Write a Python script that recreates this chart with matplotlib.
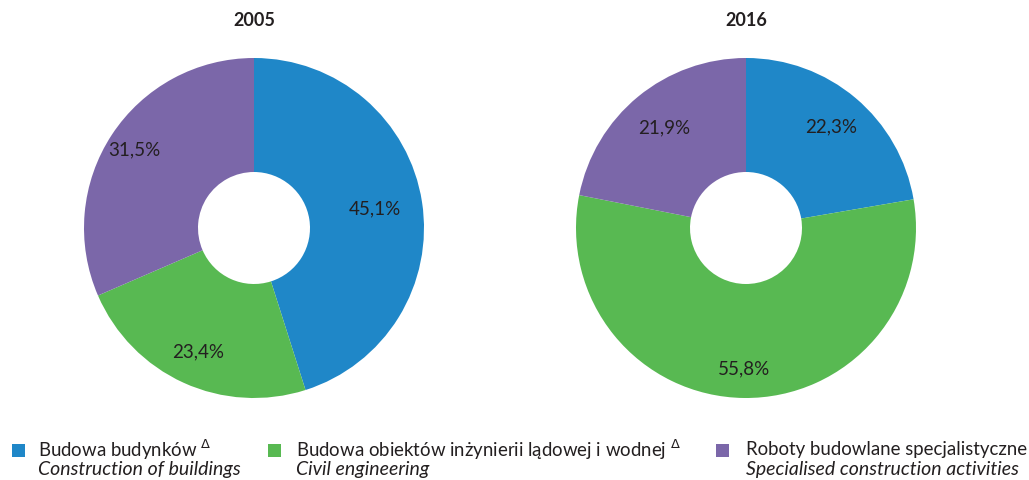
import matplotlib
matplotlib.use("Agg")
import numpy as np
import matplotlib.pyplot as plt
from matplotlib.patches import Rectangle

plt.rcParams['font.family'] = ['Lato', 'DejaVu Sans']

years = ["2005", "2016"]
categories_pl = ["Budowa budynków", "Budowa obiektów inżynierii lądowej i wodnej", "Roboty budowlane specjalistyczne"]
categories_en = ["Construction of buildings", "Civil engineering", "Specialised construction activities"]
delta_mark = [True, True, False]
values_2005 = [45.1, 23.4, 31.5]
values_2016 = [22.3, 55.8, 21.9]
colors = ["#1f87c8", "#58b952", "#7b67a9"]

# label radial distance (fraction of outer radius), styling only
label_dist = [[0.72, 0.80, 0.84], [0.78, 0.83, 0.76]]

W, H = 1029, 480
fig = plt.figure(figsize=(W / 100, H / 100), dpi=100)

centers = [(254, 228), (746, 228)]
R = 170
text_color = "#231f20"

for k, ((cx, cy), year, vals) in enumerate(zip(centers, years, [values_2005, values_2016])):
    ax = fig.add_axes([(cx - R) / W, (H - cy - R) / H, 2 * R / W, 2 * R / H])
    wedges, texts, autotexts = ax.pie(
        vals, colors=colors, startangle=90, counterclock=False,
        wedgeprops=dict(width=1 - 56 / R, linewidth=0),
        autopct=lambda p: f"{p:.1f}".replace(".", ",") + "%",
        pctdistance=0.8,
        textprops=dict(fontsize=13.5, color=text_color),
    )
    for w, t, d in zip(wedges, autotexts, label_dist[k]):
        ang = np.deg2rad((w.theta1 + w.theta2) / 2)
        t.set_position((d * np.cos(ang), d * np.sin(ang)))
    ax.set_aspect("equal")
    ax.set_xlim(-1, 1)
    ax.set_ylim(-1, 1)
    fig.text(cx / W, 1 - 20 / H, year, ha="center", va="center",
             fontsize=13, fontweight="bold", color=text_color)

sq_x = [12, 268, 716]
tx_x = [38, 296, 746]
for i in range(3):
    fig.patches.append(Rectangle((sq_x[i] / W, 1 - 457 / H), 13 / W, 13 / H,
                                 transform=fig.transFigure, facecolor=colors[i],
                                 edgecolor="none"))
    label = categories_pl[i] + (r" $^{\Delta}$" if delta_mark[i] else "")
    fig.text(tx_x[i] / W, 1 - 450 / H, label, ha="left", va="center",
             fontsize=13.4, color=text_color)
    fig.text(tx_x[i] / W, 1 - 470 / H, categories_en[i], ha="left", va="center",
             fontsize=14, style="italic", color=text_color)

fig.savefig("out.png", dpi=100)
